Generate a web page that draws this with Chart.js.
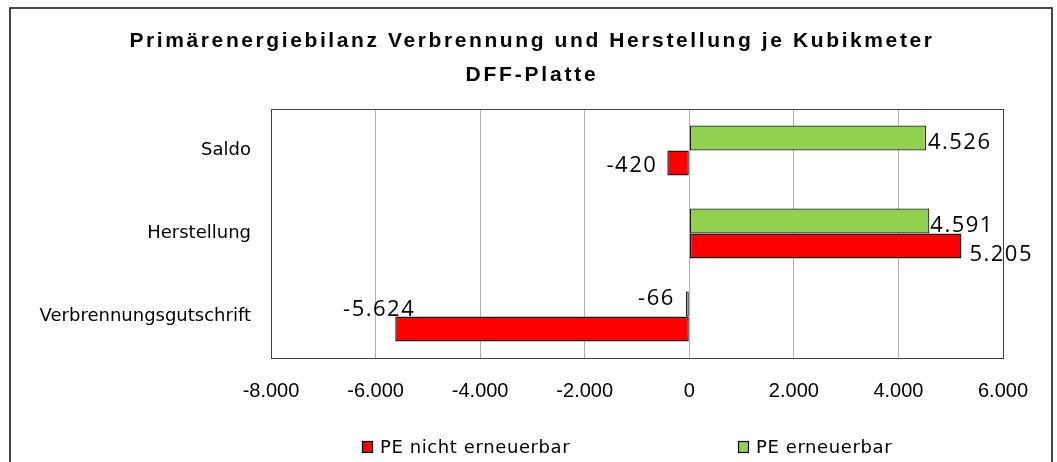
<!DOCTYPE html>
<html><head><meta charset="utf-8">
<script src="https://cdn.jsdelivr.net/npm/chart.js@4/dist/chart.umd.min.js"></script>
<style>html,body{margin:0;padding:0;background:#fff;} #wrap{position:relative;width:1057px;height:462px;}</style>
</head><body><div id="wrap"><canvas id="c" width="1057" height="462"></canvas></div>
<script>
// ---- data ----
const categories = ['Saldo', 'Herstellung', 'Verbrennungsgutschrift'];
const seriesNames = ['PE nicht erneuerbar', 'PE erneuerbar'];
const peNichtErneuerbar = [-420, 5205, -5624];
const peErneuerbar = [4526, 4591, -66];
const xTickValues = [-8000, -6000, -4000, -2000, 0, 2000, 4000, 6000];
const titleLines = ['Primärenergiebilanz Verbrennung und Herstellung je Kubikmeter', 'DFF-Platte'];

// ---- styling (label placement relative to bar end: [gap, dy]) ----
const labelPlacement = [
  [[2, 3], [1, 3.5], [11, -7]],      // PE erneuerbar
  [[10, 1.5], [8, 7], [-20, -21]]    // PE nicht erneuerbar
];
const legendItemX = [362, 738];

function fmt(v) {
  const s = String(Math.abs(v)).replace(/\B(?=(\d{3})+(?!\d))/g, '.');
  return (v < 0 ? '-' : '') + s;
}

const framePlugin = {
  id: 'frame',
  beforeDraw(chart) {
    const ctx = chart.ctx;
    ctx.save();
    ctx.fillStyle = '#fff';
    ctx.fillRect(0, 0, chart.width, chart.height);
    ctx.strokeStyle = '#1a1a1a';
    ctx.lineWidth = 1.6;
    ctx.strokeRect(10, 8, 1042, 480);
    // title
    ctx.fillStyle = '#000';
    ctx.font = 'bold 21px "Liberation Sans", Arial, sans-serif';
    ctx.textAlign = 'center';
    ctx.textBaseline = 'alphabetic';
    if ('letterSpacing' in ctx) ctx.letterSpacing = '2.6px';
    ctx.fillText(titleLines[0], 532, 47);
    if ('letterSpacing' in ctx) ctx.letterSpacing = '2.8px';
    ctx.fillText(titleLines[1], 532, 81);
    ctx.restore();
  },
  afterDatasetsDraw(chart) {
    const ctx = chart.ctx;
    const a = chart.chartArea;
    ctx.save();
    ctx.strokeStyle = '#404040';
    ctx.lineWidth = 1;
    ctx.strokeRect(Math.round(a.left) + 0.5, Math.round(a.top) + 0.5, Math.round(a.right - a.left), Math.round(a.bottom - a.top));
    // data labels
    ctx.fillStyle = '#000';
    ctx.font = '22px "Open Sans", "Liberation Sans", sans-serif';
    if ('letterSpacing' in ctx) ctx.letterSpacing = '1.5px';
    ctx.textBaseline = 'alphabetic';
    chart.data.datasets.forEach((ds, di) => {
      const meta = chart.getDatasetMeta(di);
      meta.data.forEach((el, i) => {
        const v = ds.data[i];
        const [gap, dy] = labelPlacement[di][i];
        let x;
        if (v >= 0) { ctx.textAlign = 'left'; x = el.x + gap; }
        else { ctx.textAlign = 'right'; x = el.x - gap; }
        ctx.fillText(fmt(v), x, el.y + dy + 7.8);
      });
    });
    ctx.restore();
  },
  afterDraw(chart) {
    const ctx = chart.ctx;
    ctx.save();
    ctx.font = '18px "DejaVu Sans", sans-serif';
    if ('letterSpacing' in ctx) ctx.letterSpacing = '0.6px';
    ctx.textAlign = 'left';
    ctx.textBaseline = 'alphabetic';
    const order = chart.data.datasets.map((d, i) => i).reverse();
    order.forEach((di, k) => {
      const ds = chart.data.datasets[di];
      const x = legendItemX[k];
      ctx.fillStyle = ds.backgroundColor;
      ctx.fillRect(x, 441, 11, 12);
      ctx.strokeStyle = '#000';
      ctx.lineWidth = 1.2;
      ctx.strokeRect(x + 0.5, 441.5, 10, 11);
      ctx.fillStyle = '#000';
      ctx.fillText(ds.label, x + 18, 453);
    });
    ctx.restore();
  }
};

new Chart(document.getElementById('c'), {
  type: 'bar',
  data: {
    labels: categories,
    datasets: [
      { label: seriesNames[1], data: peErneuerbar, backgroundColor: '#92D050', borderColor: '#1a1a1a', borderWidth: 1.2, borderSkipped: false },
      { label: seriesNames[0], data: peNichtErneuerbar, backgroundColor: '#FF0000', borderColor: '#1a1a1a', borderWidth: 1.4, borderSkipped: false }
    ]
  },
  options: {
    indexAxis: 'y',
    responsive: false,
    animation: false,
    devicePixelRatio: 1,
    categoryPercentage: 0.6,
    barPercentage: 1,
    layout: { padding: { left: 0, top: 109, right: 54, bottom: 54 } },
    plugins: { legend: { display: false }, title: { display: false }, tooltip: { enabled: false } },
    scales: {
      x: {
        type: 'linear',
        min: xTickValues[0],
        max: xTickValues[xTickValues.length - 1],
        afterBuildTicks(scale) { scale.ticks = xTickValues.map(v => ({ value: v })); },
        afterFit(scale) { scale.height = 50; },
        ticks: {
          padding: 21,
          color: '#000',
          font: { family: '"Liberation Sans", Arial, sans-serif', size: 20 },
          callback: (v) => fmt(v)
        },
        grid: { color: '#b0b0b0', lineWidth: 1, drawTicks: false },
        border: { display: true, color: '#404040' }
      },
      y: {
        type: 'category',
        afterFit(scale) { scale.width = 271; },
        ticks: {
          padding: 20,
          color: '#000',
          font: { family: '"DejaVu Sans", sans-serif', size: 18 }
        },
        grid: { display: false, drawTicks: false },
        border: { display: true, color: '#404040' }
      }
    }
  },
  plugins: [framePlugin]
});
</script>
</body></html>
